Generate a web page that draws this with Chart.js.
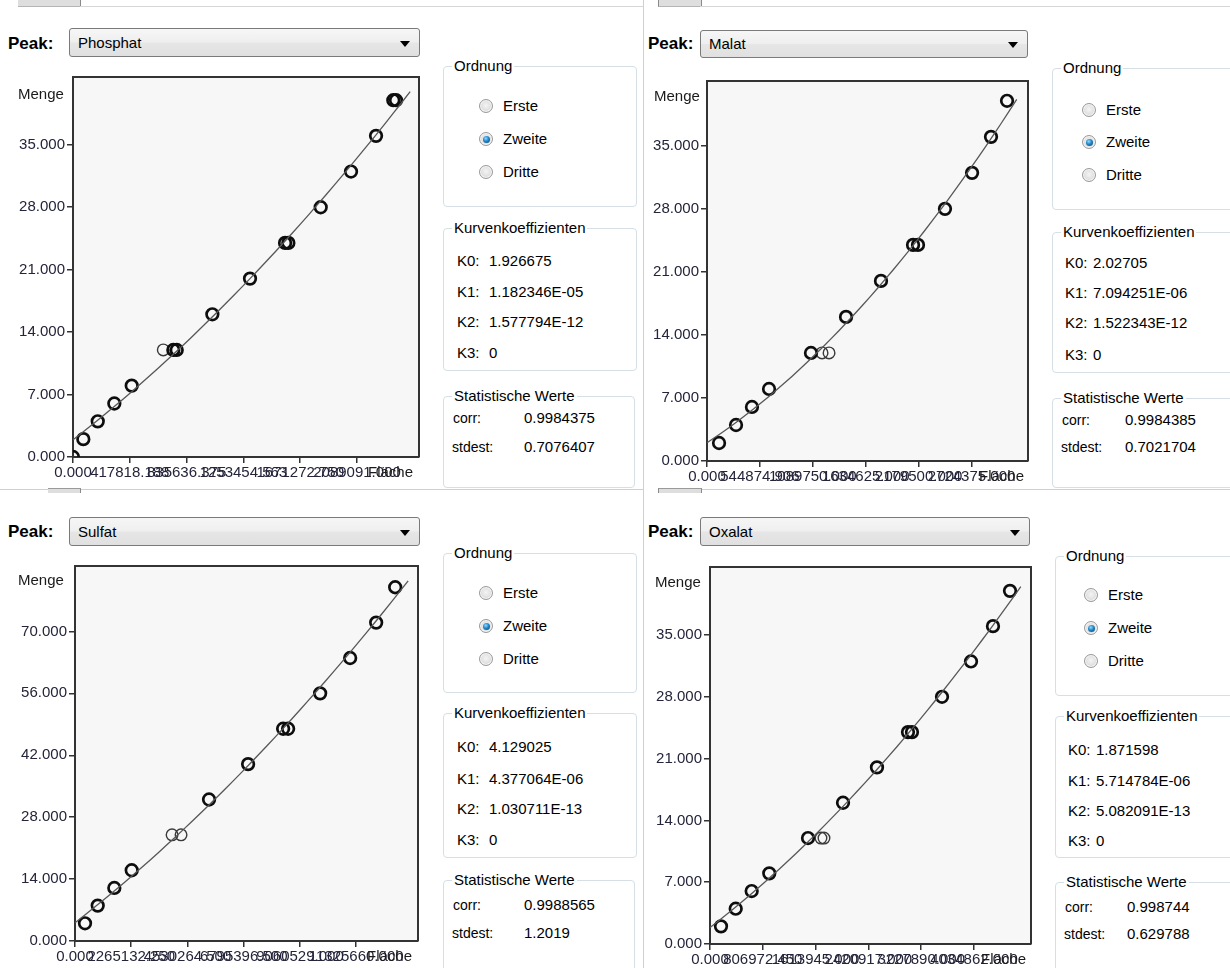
<!DOCTYPE html>
<html>
<head>
<meta charset="utf-8">
<script src="https://cdn.jsdelivr.net/npm/chart.js@4.4.1/dist/chart.umd.min.js"></script>
<style>
  html, body { margin: 0; padding: 0; background: #fff; }
  #app { position: relative; width: 1230px; height: 968px; overflow: hidden;
         font-family: "Liberation Sans", Arial, sans-serif; font-size: 15px; color: #000; }
  .abs { position: absolute; white-space: nowrap; line-height: 18px; }
  .peak { font-weight: bold; font-size: 17px; line-height: 20px; }
  .combo { position: absolute; box-sizing: border-box; border: 1px solid #7a7a7a; border-radius: 3px;
           background: linear-gradient(#f6f6f6, #efefef 48%, #e6e6e6 52%, #e0e0e0); }
  .combo span { position: absolute; left: 8px; top: 50%; transform: translateY(-50%); line-height: 18px; }
  .combo i { position: absolute; right: 9px; top: 50%; margin-top: -2px; width: 0; height: 0;
             border-left: 5px solid transparent; border-right: 5px solid transparent; border-top: 6px solid #000; }
  .grp { position: absolute; box-sizing: border-box; border: 1px solid #d5dfe5; border-radius: 4px; }
  .grp .ttl { position: absolute; left: 8px; top: -10px; background: #fff; padding: 0 2px; line-height: 18px; white-space: nowrap; }
  .radio { position: absolute; width: 14px; height: 14px; box-sizing: border-box; border-radius: 50%;
           border: 1px solid #9a9a9a;
           background: radial-gradient(circle at 50% 45%, #f4f4f4 0%, #e4e4e4 45%, #c4c4c4 100%);
           box-shadow: inset 0 0 0 1px #f8f8f8; }
  .radio.on::after { content: ""; position: absolute; left: 2.5px; top: 2.5px; width: 7px; height: 7px; border-radius: 50%;
           background: radial-gradient(circle at 40% 35%, #9ad8ff 0%, #1f86c9 45%, #0b3f6e 100%); }
  .line { position: absolute; }
  canvas { position: absolute; }
</style>
</head>
<body>
<div id="app"></div>
<script>
// ---- calibration data ----
const peakNames = ['Phosphat', 'Malat', 'Sulfat', 'Oxalat'];
const orderOptions = ['Erste', 'Zweite', 'Dritte'];
const selectedOrder = 1;

// Phosphat
const phosphatArea   = [0, 76000, 182000, 304000, 432000, 738000, 763000, 1025000, 1302000, 1560000, 1584000, 1822000, 2045000, 2229000, 2356000, 2376000];
const phosphatAmount = [0, 2, 4, 6, 8, 12, 12, 16, 20, 24, 24, 28, 32, 36, 40, 40];
const phosphatSingleArea   = [664000];
const phosphatSingleAmount = [12];
const phosphatCoef  = ['1.926675', '1.182346E-05', '1.577794E-12', '0'];
const phosphatStats = ['0.9984375', '0.7076407'];
const phosphatXTicks  = [0, 417818.1875, 835636.375, 1253454.5625, 1671272.75, 2089090.9375];
const phosphatXLabels = ['0.000', '417818.188', '835636.375', '1253454.563', '1671272.750', '2089091.000'];
const phosphatXMax = 2545000;
const phosphatYTicks  = [0, 7, 14, 21, 28, 35];
const phosphatYLabels = ['0.000', '7.000', '14.000', '21.000', '28.000', '35.000'];
const phosphatYMax = 42.6;
const phosphatFitEnd = 2480000;

// Malat
const malatArea   = [124000, 299000, 463000, 639000, 1071000, 1432000, 1792000, 2122000, 2173000, 2451000, 2730000, 2925000, 3090000];
const malatAmount = [2, 4, 6, 8, 12, 16, 20, 24, 24, 28, 32, 36, 40];
const malatSingleArea   = [1185000, 1257000];
const malatSingleAmount = [12, 12];
const malatCoef  = ['2.02705', '7.094251E-06', '1.522343E-12', '0'];
const malatStats = ['0.9984385', '0.7021704'];
const malatXTicks  = [0, 544874.9, 1089749.8, 1634624.7, 2179499.6, 2724374.5];
const malatXLabels = ['0.000', '544874.906', '1089750.000', '1634625.000', '2179500.000', '2724375.000'];
const malatXMax = 3306000;
const malatYTicks  = [0, 7, 14, 21, 28, 35];
const malatYLabels = ['0.000', '7.000', '14.000', '21.000', '28.000', '35.000'];
const malatYMax = 42.2;
const malatFitEnd = 3190000;

// Sulfat
const sulfatArea   = [403000, 915000, 1584000, 2285000, 5400000, 6973000, 8384000, 8585000, 9875000, 11084000, 12132000, 12898000];
const sulfatAmount = [4, 8, 12, 16, 32, 40, 48, 48, 56, 64, 72, 80];
const sulfatSingleArea   = [3910000, 4272000];
const sulfatSingleAmount = [24, 24];
const sulfatCoef  = ['4.129025', '4.377064E-06', '1.030711E-13', '0'];
const sulfatStats = ['0.9988565', '1.2019'];
const sulfatXTicks  = [0, 2265132.25, 4530264.5, 6795396.75, 9060529, 11325661.25];
const sulfatXLabels = ['0.000', '2265132.250', '4530264.500', '6795396.500', '9060529.000', '11325660.000'];
const sulfatXMax = 13817000;
const sulfatYTicks  = [0, 14, 28, 42, 56, 70];
const sulfatYLabels = ['0.000', '14.000', '28.000', '42.000', '56.000', '70.000'];
const sulfatYMax = 84.8;
const sulfatFitEnd = 13420000;

// Oxalat
const oxalatArea   = [168000, 393000, 637000, 906000, 1498000, 2033000, 2552000, 3026000, 3087000, 3546000, 3989000, 4325000, 4585000];
const oxalatAmount = [2, 4, 6, 8, 12, 16, 20, 24, 24, 28, 32, 36, 40];
const oxalatSingleArea   = [1696000, 1742000];
const oxalatSingleAmount = [12, 12];
const oxalatCoef  = ['1.871598', '5.714784E-06', '5.082091E-13', '0'];
const oxalatStats = ['0.998744', '0.629788'];
const oxalatXTicks  = [0, 806972.45, 1613944.9, 2420917.35, 3227889.8, 4034862.25];
const oxalatXLabels = ['0.000', '806972.450', '1613945.000', '2420917.000', '3227890.000', '4034862.000'];
const oxalatXMax = 4906000;
const oxalatYTicks  = [0, 7, 14, 21, 28, 35];
const oxalatYLabels = ['0.000', '7.000', '14.000', '21.000', '28.000', '35.000'];
const oxalatYMax = 42.7;
const oxalatFitEnd = 4750000;

const series = [
  { area: phosphatArea, amount: phosphatAmount, sArea: phosphatSingleArea, sAmount: phosphatSingleAmount, coef: phosphatCoef, stats: phosphatStats,
    xTicks: phosphatXTicks, xLabels: phosphatXLabels, xMax: phosphatXMax, yTicks: phosphatYTicks, yLabels: phosphatYLabels, yMax: phosphatYMax, fitEnd: phosphatFitEnd },
  { area: malatArea, amount: malatAmount, sArea: malatSingleArea, sAmount: malatSingleAmount, coef: malatCoef, stats: malatStats,
    xTicks: malatXTicks, xLabels: malatXLabels, xMax: malatXMax, yTicks: malatYTicks, yLabels: malatYLabels, yMax: malatYMax, fitEnd: malatFitEnd },
  { area: sulfatArea, amount: sulfatAmount, sArea: sulfatSingleArea, sAmount: sulfatSingleAmount, coef: sulfatCoef, stats: sulfatStats,
    xTicks: sulfatXTicks, xLabels: sulfatXLabels, xMax: sulfatXMax, yTicks: sulfatYTicks, yLabels: sulfatYLabels, yMax: sulfatYMax, fitEnd: sulfatFitEnd },
  { area: oxalatArea, amount: oxalatAmount, sArea: oxalatSingleArea, sAmount: oxalatSingleAmount, coef: oxalatCoef, stats: oxalatStats,
    xTicks: oxalatXTicks, xLabels: oxalatXLabels, xMax: oxalatXMax, yTicks: oxalatYTicks, yLabels: oxalatYLabels, yMax: oxalatYMax, fitEnd: oxalatFitEnd }
];

// ---- screen layout of the four panels ----
const layouts = [
  { peak: [8, 44], combo: [69, 28, 351, 29], plot: [73, 77, 419, 457], menge: [18, 94], flaeche: 413,
    ord: [443, 66, 194, 141], rad: [486, [106, 139, 172]], kur: [443, 228, 194, 143], k: [457, 489, [261, 292, 322, 353]],
    st: [443, 396, 192, 92], s: [453, 524, [418, 447]] },
  { peak: [648, 44], combo: [700, 30, 328, 28], plot: [707, 81, 1028, 461], menge: [654, 96], flaeche: 1024,
    ord: [1052, 68, 190, 142], rad: [1089, [110, 142, 175]], kur: [1052, 232, 190, 141], k: [1065, 1093, [263, 293, 323, 355]],
    st: [1052, 398, 190, 90], s: [1062, 1125, [420, 447]] },
  { peak: [8, 532], combo: [69, 517, 351, 29], plot: [75, 566, 418, 941], menge: [18, 580], flaeche: 412,
    ord: [443, 553, 194, 140], rad: [486, [593, 626, 659]], kur: [443, 713, 194, 145], k: [457, 489, [747, 779, 809, 840]],
    st: [443, 880, 192, 95], s: [453, 524, [905, 933]] },
  { peak: [648, 532], combo: [700, 517, 330, 29], plot: [710, 567, 1031, 943.5], menge: [655, 582], flaeche: 1026,
    ord: [1055, 556, 190, 140], rad: [1091, [595, 628, 661]], kur: [1055, 716, 190, 142], k: [1068, 1096, [750, 781, 811, 841]],
    st: [1055, 882, 190, 95], s: [1065, 1127, [907, 934]] }
];

const app = document.getElementById('app');
function el(tag, cls, css, text) {
  const e = document.createElement(tag);
  if (cls) e.className = cls;
  Object.assign(e.style, css || {});
  if (text !== undefined) e.textContent = text;
  app.appendChild(e);
  return e;
}
function px(v) { return v + 'px'; }
function textAt(x, cy, text, extra) {
  return el('div', 'abs', Object.assign({ left: px(x), top: px(cy - 9) }, extra || {}), text);
}

// window chrome: tab strips and dividers
el('div', 'line', { left: '18px', top: '0px', width: '62px', height: '6px', background: '#dedede', borderBottom: '1px solid #b5b5b5', borderRight: '1px solid #8a8a8a' });
el('div', 'line', { left: '80px', top: '6px', width: '563px', height: '1px', background: '#d6d6d6' });
el('div', 'line', { left: '658px', top: '0px', width: '42px', height: '6px', background: '#dedede', borderBottom: '1px solid #b5b5b5', borderLeft: '1px solid #8a8a8a', borderRight: '1px solid #8a8a8a' });
el('div', 'line', { left: '700px', top: '6px', width: '530px', height: '1px', background: '#d6d6d6' });
el('div', 'line', { left: '0px', top: '489px', width: '643px', height: '1px', background: '#cfcfcf' });
el('div', 'line', { left: '48px', top: '488px', width: '32px', height: '4px', background: '#dedede', borderTop: '1px solid #9a9a9a', borderRight: '1px solid #8a8a8a' });
el('div', 'line', { left: '658px', top: '489px', width: '572px', height: '1px', background: '#cfcfcf' });
el('div', 'line', { left: '658px', top: '488px', width: '42px', height: '4px', background: '#dedede', borderTop: '1px solid #9a9a9a', borderRight: '1px solid #8a8a8a', borderLeft: '1px solid #8a8a8a' });
el('div', 'line', { left: '643px', top: '0px', width: '1px', height: '968px', background: '#d0d0d0' });

// plot background and frame
const plotFrame = {
  id: 'plotFrame',
  beforeDraw(chart) {
    const a = chart.chartArea, c = chart.ctx;
    c.save();
    c.fillStyle = '#f7f7f7';
    c.fillRect(a.left, a.top, a.right - a.left, a.bottom - a.top);
    c.restore();
  },
  afterDraw(chart) {
    const a = chart.chartArea, c = chart.ctx;
    c.save();
    c.strokeStyle = '#333';
    c.lineWidth = 2;
    c.beginPath();
    c.moveTo(a.left, a.top); c.lineTo(a.right, a.top); c.lineTo(a.right, a.bottom);
    c.stroke();
    c.restore();
  }
};

const FONT = { family: '"Liberation Sans", Arial, sans-serif', size: 15 };
const TICK_COLOR = '#24243a';

function buildPanel(i) {
  const L = layouts[i], d = series[i];

  el('div', 'abs peak', { left: px(L.peak[0]), top: px(L.peak[1] - 10) }, 'Peak:');
  const cb = el('div', 'combo', { left: px(L.combo[0]), top: px(L.combo[1]), width: px(L.combo[2]), height: px(L.combo[3]) });
  const sp = document.createElement('span'); sp.textContent = peakNames[i]; cb.appendChild(sp);
  cb.appendChild(document.createElement('i'));

  // Ordnung
  const g1 = el('div', 'grp', { left: px(L.ord[0]), top: px(L.ord[1]), width: px(L.ord[2]), height: px(L.ord[3]) });
  const t1 = document.createElement('div'); t1.className = 'ttl'; t1.textContent = 'Ordnung'; g1.appendChild(t1);
  orderOptions.forEach((name, j) => {
    el('div', 'radio' + (j === selectedOrder ? ' on' : ''), { left: px(L.rad[0] - 7), top: px(L.rad[1][j] - 7) });
    textAt(L.rad[0] + 17, L.rad[1][j], name);
  });

  // Kurvenkoeffizienten
  const g2 = el('div', 'grp', { left: px(L.kur[0]), top: px(L.kur[1]), width: px(L.kur[2]), height: px(L.kur[3]) });
  const t2 = document.createElement('div'); t2.className = 'ttl'; t2.textContent = 'Kurvenkoeffizienten'; g2.appendChild(t2);
  d.coef.forEach((v, j) => {
    textAt(L.k[0], L.k[2][j], 'K' + j + ':');
    textAt(L.k[1], L.k[2][j], v);
  });

  // Statistische Werte
  const g3 = el('div', 'grp', { left: px(L.st[0]), top: px(L.st[1]), width: px(L.st[2]), height: px(L.st[3]) });
  const t3 = document.createElement('div'); t3.className = 'ttl'; t3.textContent = 'Statistische Werte'; g3.appendChild(t3);
  ['corr:', 'stdest:'].forEach((name, j) => {
    textAt(L.s[0] - (j === 1 ? 1 : 0), L.s[2][j], name, { fontSize: '14px' });
    textAt(L.s[1], L.s[2][j], d.stats[j]);
  });

  // chart canvas placed so its chart area lands on the plot rectangle
  const [pl, pt, pr, pb] = L.plot;
  const padL = 70, padT = 10, padR = 12, padB = 30;
  const cw = Math.round(pr - pl + padL + padR), ch = Math.round(pb - pt + padT + padB);
  const cv = el('canvas', null, { left: px(pl - padL), top: px(pt - padT), width: px(cw), height: px(ch) });
  cv.width = cw; cv.height = ch;

  // fitted calibration curve from the displayed coefficients
  const k = d.coef.map(Number);
  const fit = [];
  const nFit = 40;
  for (let s = 0; s <= nFit; s++) {
    const x = d.fitEnd * s / nFit;
    fit.push({ x: x, y: k[0] + k[1] * x + k[2] * x * x + k[3] * x * x * x });
  }
  const pts = d.area.map((x, j) => ({ x: x, y: d.amount[j] }));
  const spts = d.sArea.map((x, j) => ({ x: x, y: d.sAmount[j] }));

  new Chart(cv, {
    type: 'scatter',
    data: {
      datasets: [
        { data: fit, showLine: true, borderColor: '#575757', borderWidth: 1.3, pointRadius: 0, fill: false },
        { data: pts, pointRadius: 5.8, pointBorderWidth: 2.7, pointBorderColor: '#0d0d0d', pointBackgroundColor: 'rgba(0,0,0,0)' },
        { data: spts, pointRadius: 5.8, pointBorderWidth: 1.4, pointBorderColor: '#3a3a3a', pointBackgroundColor: 'rgba(0,0,0,0)' }
      ]
    },
    options: {
      responsive: false, animation: false, devicePixelRatio: 1, events: [],
      layout: { padding: { left: 0, top: padT, right: padR, bottom: 0 } },
      plugins: { legend: { display: false }, tooltip: { enabled: false } },
      scales: {
        x: {
          type: 'linear', min: 0, max: d.xMax,
          afterBuildTicks: s => { s.ticks = d.xTicks.map(v => ({ value: v })); },
          afterFit: s => { s.height = padB; s.paddingLeft = 0; s.paddingRight = 0; },
          ticks: { autoSkip: false, maxRotation: 0, minRotation: 0, padding: 1, font: FONT, color: TICK_COLOR,
                   callback: (v, j) => d.xLabels[j] },
          grid: { drawOnChartArea: false, drawTicks: true, tickLength: 6, color: '#333', lineWidth: 1.5 },
          border: { display: true, color: '#333', width: 2 }
        },
        y: {
          type: 'linear', min: 0, max: d.yMax,
          afterBuildTicks: s => { s.ticks = d.yTicks.map(v => ({ value: v })); },
          afterFit: s => { s.width = padL; s.paddingTop = 0; s.paddingBottom = 0; },
          ticks: { autoSkip: false, padding: 2, font: FONT, color: TICK_COLOR,
                   callback: (v, j) => d.yLabels[j] },
          grid: { drawOnChartArea: false, drawTicks: true, tickLength: 6, color: '#333', lineWidth: 1.5 },
          border: { display: true, color: '#333', width: 2 }
        }
      }
    },
    plugins: [plotFrame]
  });

  // axis captions
  textAt(L.menge[0], L.menge[1], 'Menge', { color: '#1a1a1a' });
  const fl = textAt(0, pb + 15, 'Fläche', { color: '#1a1a1a' });
  fl.style.left = 'auto';
  fl.style.right = px(1230 - L.flaeche);
}

for (let i = 0; i < 4; i++) buildPanel(i);
</script>
</body>
</html>
